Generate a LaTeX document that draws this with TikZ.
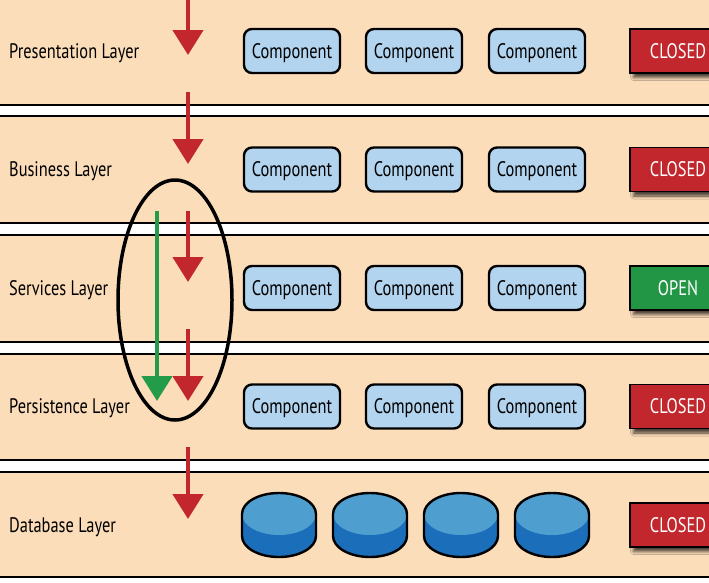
\documentclass[tikz,border=0pt]{standalone}
\usepackage{fontspec}
\newfontfamily\cond[FakeStretch=0.78]{PT Sans}
\usetikzlibrary{arrows.meta,shadows.blur}
\definecolor{peach}{RGB}{252,221,186}
\definecolor{compblue}{RGB}{179,212,238}
\definecolor{boxred}{RGB}{193,39,45}
\definecolor{boxgreen}{RGB}{35,150,70}
\definecolor{arrgreen}{RGB}{35,155,72}
\definecolor{dblight}{RGB}{78,158,208}
\definecolor{dbdark}{RGB}{27,110,186}
\begin{document}
\begin{tikzpicture}[x=1pt,y=1pt,
  txt/.style={font=\cond\fontsize{21}{22}\selectfont, text height=14.5pt, text depth=0pt},
  comp/.style={txt, draw=black, line width=2.4pt, fill=compblue, rounded corners=8pt,
    minimum width=96pt, minimum height=44pt, inner sep=0pt},
  lay/.style={txt, anchor=west, inner sep=0pt},
  stat/.style={txt, draw=black, line width=1.5pt, text=white, minimum width=96pt,
    minimum height=44pt, inner sep=0pt,
    blur shadow={shadow xshift=3.5pt, shadow yshift=-4.5pt, shadow blur radius=3pt, shadow opacity=70}},
  closedbox/.style={stat, fill=boxred},
  openbox/.style={stat, fill=boxgreen},
  redflow/.style={draw=boxred, line width=4.5pt, -{Triangle[width=30pt,length=25pt]}},
  greenflow/.style={draw=arrgreen, line width=4.5pt, -{Triangle[width=30pt,length=25pt]}},
  sepline/.style={line width=1.8pt, black},
  loopline/.style={line width=3.5pt, black},
  dbcyl/.pic={
    \fill[dbdark] (-37,11) -- (-37,-11) arc[start angle=180, end angle=360, x radius=37, y radius=21]
      -- (37,11) arc[start angle=0, end angle=180, x radius=37, y radius=21] -- cycle;
    \fill[dblight] (0,11) ellipse [x radius=37, y radius=21];
    \draw[line width=2.4pt, line join=round] (-37,11) -- (-37,-11) arc[start angle=180, end angle=360, x radius=37, y radius=21]
      -- (37,11) arc[start angle=0, end angle=180, x radius=37, y radius=21] -- cycle;
  }
]
\clip (0,0) rectangle (709,-582);
\fill[peach] (0,0) rectangle (709,-582);
% separators
\foreach \ya/\yb in {105/116, 223/235, 342/354.3, 459.7/471.7} {
  \fill[white] (0,-\ya) rectangle (709,-\yb);
  \draw[sepline] (0,-\ya) -- (709,-\ya);
  \draw[sepline] (0,-\yb) -- (709,-\yb);
}
\fill[white] (0,-577) rectangle (709,-582);
\draw[sepline] (0,-577) -- (709,-577);

% layer labels
\node[lay] (lab1) at (9,-51) {Presentation Layer};
\node[lay] (lab2) at (9,-169.5) {Business Layer};
\node[lay] (lab3) at (9,-288) {Services Layer};
\node[lay] (lab4) at (9,-406.5) {Persistence Layer};
\node[lay] (lab5) at (9,-525) {Database Layer};

% components
\foreach \r/\yy in {1/51, 2/169.5, 3/288, 4/406.5} {
  \node[comp] (c\r a) at (292,-\yy) {Component};
  \node[comp] (c\r b) at (414,-\yy) {Component};
  \node[comp] (c\r c) at (537,-\yy) {Component};
}

% status boxes
\node[closedbox] (st1) at (678,-51) {CLOSED};
\node[closedbox] (st2) at (678,-169.5) {CLOSED};
\node[openbox] (st3) at (678,-288) {OPEN};
\node[closedbox] (st4) at (678,-406.5) {CLOSED};
\node[closedbox] (st5) at (678,-525) {CLOSED};

% database cylinders
\pic (db1) at (279,-525) {dbcyl};
\pic (db2) at (370,-525) {dbcyl};
\pic (db3) at (461,-525) {dbcyl};
\pic (db4) at (552,-525) {dbcyl};

% arrows
\coordinate (a1s) at (188,2);   \coordinate (a1e) at (188,-55);
\coordinate (a2s) at (188,-92); \coordinate (a2e) at (188,-164);
\coordinate (a3s) at (188,-211); \coordinate (a3e) at (188,-282);
\coordinate (a4s) at (188,-329); \coordinate (a4e) at (188,-401);
\coordinate (a5s) at (188,-447); \coordinate (a5e) at (188,-519);
\coordinate (gs) at (157,-211); \coordinate (ge) at (157,-401);
\draw[redflow] (a1s) -- (a1e);
\draw[redflow] (a2s) -- (a2e);
\draw[redflow] (a3s) -- (a3e);
\draw[redflow] (a4s) -- (a4e);
\draw[redflow] (a5s) -- (a5e);
\draw[greenflow] (gs) -- (ge);

% ellipse around the open-layer bypass
\coordinate (loop) at (175,-300);
\draw[loopline] (loop) ellipse [x radius=57, y radius=120];
\end{tikzpicture}
\end{document}
